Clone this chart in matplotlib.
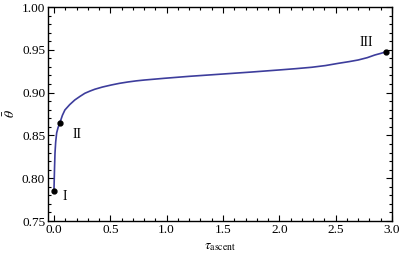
import numpy as np
import matplotlib.pyplot as plt
from matplotlib.ticker import MultipleLocator

# curve
tau = [0.0, 0.002, 0.005, 0.009, 0.015, 0.024, 0.036, 0.053, 0.075, 0.097, 0.14,
       0.185, 0.23, 0.274, 0.32, 0.362, 0.43, 0.509, 0.58, 0.656, 0.73, 0.803,
       0.9, 0.979, 1.2, 1.465, 1.75, 1.994, 2.15, 2.288, 2.41, 2.524, 2.62, 2.70,
       2.78, 2.847, 2.90, 2.95]
theta = [0.785, 0.797, 0.812, 0.829, 0.842, 0.853, 0.859, 0.865, 0.8735, 0.8797, 0.886,
         0.8914, 0.8955, 0.8992, 0.9018, 0.9039, 0.9065, 0.9089, 0.9108, 0.9124, 0.9137, 0.9147,
         0.9158, 0.9167, 0.919, 0.9214, 0.924, 0.9264, 0.928, 0.9296, 0.9316, 0.9342, 0.9362, 0.9381,
         0.9408, 0.9439, 0.9458, 0.9478]

pts_x = [0.0, 0.053, 2.95]
pts_y = [0.785, 0.865, 0.9478]
pts_lab = ['I', 'II', 'III']
lab_off = [(0.095, -0.006), (0.15, -0.014), (-0.18, 0.011)]

plt.rcParams['font.family'] = ['Liberation Serif', 'DejaVu Serif']
plt.rcParams['mathtext.fontset'] = 'stix'

fig = plt.figure(figsize=(3.99, 2.57), dpi=100)
ax = fig.add_axes([48 / 399, 36 / 257, 344 / 399, 214 / 257])

ax.plot(tau, theta, color='#3d3d9c', lw=1.2)
ax.plot(pts_x, pts_y, 'o', color='k', ms=3.5)
for x, y, s, (dx, dy) in zip(pts_x, pts_y, pts_lab, lab_off):
    ax.text(x + dx, y + dy, s, fontsize=10, ha='center', va='center')

ax.set_xlim(-0.053, 3.0)
ax.set_ylim(0.75, 1.0)
ax.xaxis.set_major_locator(MultipleLocator(0.5))
ax.xaxis.set_minor_locator(MultipleLocator(0.1))
ax.yaxis.set_major_locator(MultipleLocator(0.05))
ax.yaxis.set_minor_locator(MultipleLocator(0.01))
ax.xaxis.set_major_formatter(plt.FuncFormatter(lambda v, p: f'{v:.1f}'))
ax.yaxis.set_major_formatter(plt.FuncFormatter(lambda v, p: f'{v:.2f}'))
ax.tick_params(which='both', direction='in', top=True, right=True, labelsize=9.5, width=0.8)
ax.tick_params(which='major', length=4, pad=2)
ax.tick_params(which='minor', length=2)
for sp in ax.spines.values():
    sp.set_linewidth(1.0)

ax.set_xlabel(r'$\tau_{\mathrm{ascent}}$', fontsize=10, labelpad=3)
ax.set_ylabel(r'$\bar{\theta}$', fontsize=10, labelpad=3)

fig.savefig('out.png', dpi=100)
